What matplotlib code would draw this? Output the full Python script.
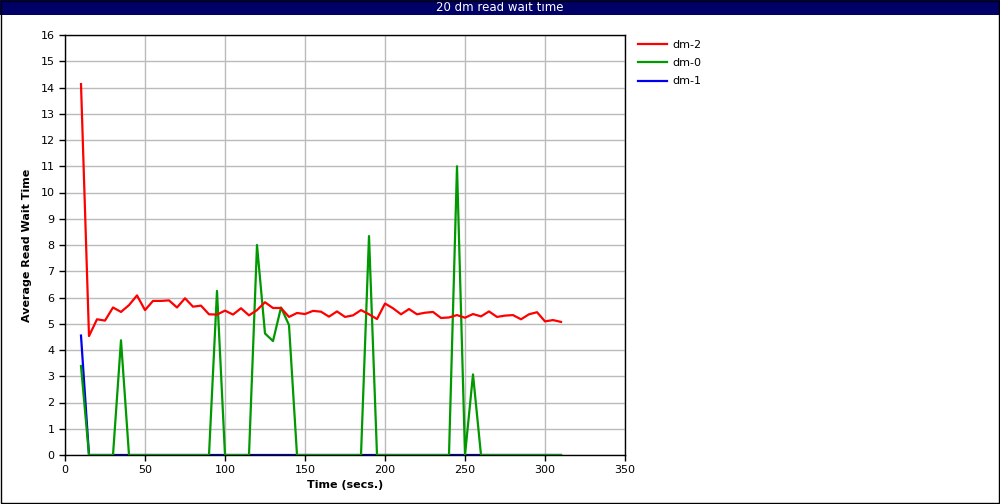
import matplotlib
matplotlib.use("Agg")
import matplotlib.pyplot as plt
from matplotlib.patches import Rectangle

# sample times (secs.), one every 5 seconds
times = list(range(10, 315, 5))

dm2 = [14.13, 4.53, 5.17, 5.12, 5.62, 5.45, 5.71, 6.08, 5.52, 5.87,
       5.87, 5.89, 5.62, 5.97, 5.65, 5.69, 5.36, 5.35, 5.50, 5.35,
       5.59, 5.32, 5.52, 5.82, 5.60, 5.60, 5.26, 5.41, 5.37, 5.49,
       5.46, 5.27, 5.47, 5.26, 5.32, 5.52, 5.36, 5.18, 5.77, 5.59,
       5.36, 5.56, 5.36, 5.42, 5.45, 5.22, 5.24, 5.33, 5.23, 5.37,
       5.28, 5.47, 5.26, 5.31, 5.33, 5.17, 5.36, 5.44, 5.09, 5.14,
       5.07]

dm0 = [3.39, 0, 0, 0, 0, 4.37, 0, 0, 0, 0,
       0, 0, 0, 0, 0, 0, 0, 6.25, 0, 0,
       0, 0, 8.0, 4.63, 4.34, 5.62, 4.95, 0, 0, 0,
       0, 0, 0, 0, 0, 0, 8.34, 0, 0, 0,
       0, 0, 0, 0, 0, 0, 0, 11.0, 0, 3.07,
       0, 0, 0, 0, 0, 0, 0, 0, 0, 0,
       0]

dm1 = [4.55] + [0] * 60

fig = plt.figure(figsize=(10, 5.04), dpi=100)
fig.patch.set_facecolor("white")

# title bar + outer border
fig.patches.append(Rectangle((0, 1 - 15 / 504), 1, 15 / 504, transform=fig.transFigure,
                             facecolor="#000066", edgecolor="none", zorder=0))
fig.patches.append(Rectangle((0.0006, 0.0012), 0.9984, 0.9976, transform=fig.transFigure,
                             facecolor="none", edgecolor="black", linewidth=1, zorder=5))
fig.text(0.5, 1 - 7.5 / 504, "20 dm read wait time", color="white",
         ha="center", va="center", fontsize=8.5)

ax = fig.add_axes([0.065, 49 / 504, 0.56, 420 / 504])
ax.plot(times, dm1, color="#0000ee", lw=1.6, label="dm-1", zorder=2)
ax.plot(times, dm0, color="#009900", lw=1.6, label="dm-0", zorder=3)
ax.plot(times, dm2, color="#ff0000", lw=1.6, label="dm-2", zorder=4)

ax.set_xlim(0, 350)
ax.set_ylim(0, 16)
ax.set_xticks(range(0, 351, 50))
ax.set_yticks(range(0, 17))
ax.grid(True, color="#bbbbbb", lw=1)
ax.set_axisbelow(True)
ax.tick_params(labelsize=8, length=4, width=1, direction="out")
for s in ax.spines.values():
    s.set_linewidth(1)
ax.set_xlabel("Time (secs.)", fontsize=8, fontweight="bold", labelpad=3)
ax.set_ylabel("Average Read Wait Time", fontsize=8, fontweight="bold", labelpad=6)

h, l = ax.get_legend_handles_labels()
order = [2, 1, 0]
fig.legend([h[i] for i in order], [l[i] for i in order], loc="upper left",
           bbox_to_anchor=(0.628, 0.941), frameon=False, fontsize=8,
           handlelength=2.6, labelspacing=0.75, handletextpad=0.5)

fig.savefig("out.png", dpi=100)
